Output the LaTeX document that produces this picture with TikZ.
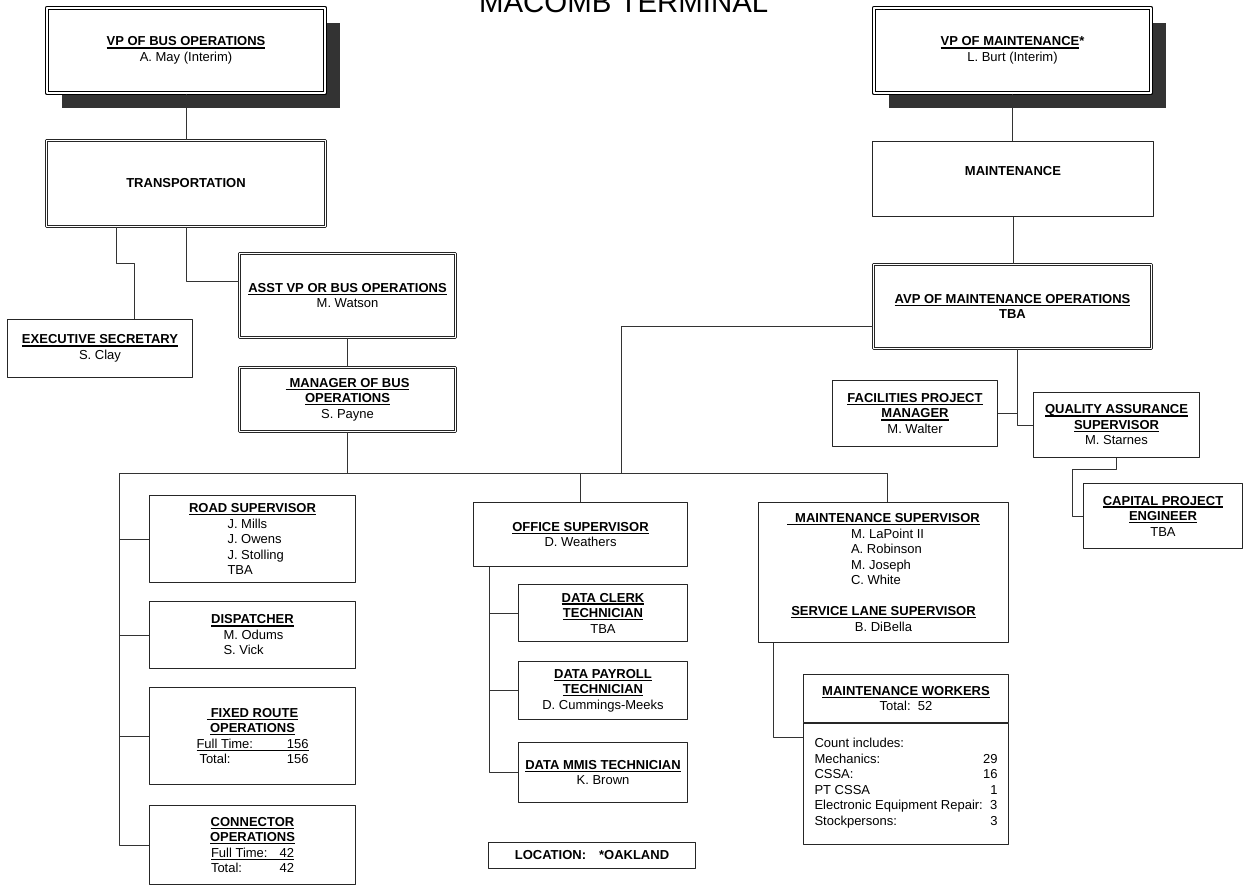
\documentclass[tikz,border=0pt]{standalone}
\usepackage{fontspec}
\setmainfont{Liberation Sans}
\usetikzlibrary{shadows}
\newcommand{\hd}[1]{\textbf{\setbox0\hbox{#1}\rlap{\rule[-2.6pt]{\wd0}{1.2pt}}\box0}}
\newcommand{\ulthin}[1]{\setbox0\hbox{#1}\rlap{\rule[-2pt]{\wd0}{0.6pt}}\box0}
\newcommand{\lft}[2]{\makebox[#1][l]{#2}}
\begin{document}
\begin{tikzpicture}[x=1pt, y=-1pt, line join=round, font=\fontsize{13}{15.5}\selectfont,
    box/.style={draw=black!85, line width=0.8pt, fill=white, inner sep=0pt, align=center},
    dbox/.style={box, double, line width=0.6pt, double distance=1.8pt},
    topbox/.style={box, draw=black, double, line width=1.3pt, double distance=1.6pt,
        drop shadow={shadow xshift=15pt, shadow yshift=-15pt, fill=black!80, opacity=1}},
    link/.style={draw=black!80, line width=0.8pt}]
\path[use as bounding box, fill=white] (0,0) rectangle (1244,886);
\node (ttl) at (623.7,12.7) [anchor=base, font=\fontsize{29.4}{30}\selectfont] {MACOMB TERMINAL};
% bus operations side
\node[topbox, minimum width=278pt, minimum height=85pt] (vpbus) at (186,50.5) {\hd{VP OF BUS OPERATIONS}\\A. May (Interim)};
\node[dbox, minimum width=279pt, minimum height=86pt] (trans) at (186,183.5) {\textbf{TRANSPORTATION}};
\node[box, minimum width=185pt, minimum height=58pt] (execsec) at (100,348.5) {\hd{EXECUTIVE SECRETARY}\\S. Clay};
\node[dbox, minimum width=216pt, minimum height=84pt] (asstvp) at (347.5,295.5) {\hd{ASST VP OR BUS OPERATIONS}\\M. Watson};
\node[dbox, minimum width=216pt, minimum height=64pt] (mgr) at (347.5,399.5) {\hd{\hspace*{4pt}MANAGER OF BUS}\\\hd{OPERATIONS}\\S. Payne};
\node[box, minimum width=206pt, minimum height=87pt] (road) at (252.5,539) {\hd{ROAD SUPERVISOR}\\\lft{50pt}{J. Mills}\\\lft{50pt}{J. Owens}\\\lft{50pt}{J. Stolling}\\\lft{50pt}{TBA}};
\node[box, minimum width=206pt, minimum height=67pt] (disp) at (252.5,635) {\hd{DISPATCHER}\\\lft{58pt}{M. Odums}\\\lft{58pt}{S. Vick}};
\node[box, minimum width=206pt, minimum height=97pt] (fixed) at (252.5,736) {\hd{\hspace*{4pt}FIXED ROUTE}\\\hd{OPERATIONS}\\\ulthin{\makebox[112pt]{Full Time:\hfill 156}}\\\makebox[112pt]{\hspace*{3pt}Total:\hfill 156}};
\node[box, minimum width=206pt, minimum height=79pt] (conn) at (252.5,845) {\hd{CONNECTOR}\\\hd{OPERATIONS}\\\ulthin{\makebox[83pt]{Full Time:\hfill 42}}\\\makebox[83pt]{Total:\hfill 42}};
% office
\node[box, minimum width=214pt, minimum height=64pt] (office) at (580.5,534.5) {\hd{OFFICE SUPERVISOR}\\D. Weathers};
\node[box, minimum width=169pt, minimum height=57pt] (clerk) at (603,613) {\hd{DATA CLERK}\\\hd{TECHNICIAN}\\TBA};
\node[box, minimum width=169pt, minimum height=58pt] (payroll) at (603,690.5) {\hd{DATA PAYROLL}\\\hd{TECHNICIAN}\\D. Cummings-Meeks};
\node[box, minimum width=169pt, minimum height=60pt] (mmis) at (603,772.5) {\hd{DATA MMIS TECHNICIAN}\\K. Brown};
\node[box, minimum width=207pt, minimum height=26pt] (loc) at (592,855.5) {\textbf{LOCATION:\hspace{13pt}*OAKLAND}};
% maintenance side
\node[topbox, minimum width=277pt, minimum height=85pt] (vpmaint) at (1012.5,50.5) {\hd{VP OF MAINTENANCE}\textbf{*}\\L. Burt (Interim)};
\node[box, minimum width=281pt, minimum height=75pt, text depth=16pt] (maint) at (1013,179) {\textbf{MAINTENANCE}};
\node[dbox, minimum width=278pt, minimum height=84pt] (avp) at (1012.5,306.5) {\hd{AVP OF MAINTENANCE OPERATIONS}\\\textbf{TBA}};
\node[box, minimum width=165pt, minimum height=66pt] (facil) at (915,413.5) {\hd{FACILITIES PROJECT}\\\hd{MANAGER}\\M. Walter};
\node[box, minimum width=166pt, minimum height=65pt] (qa) at (1116.5,425) {\hd{QUALITY ASSURANCE}\\\hd{SUPERVISOR}\\M. Starnes};
\node[box, minimum width=159pt, minimum height=65pt] (capital) at (1163,516) {\hd{CAPITAL PROJECT}\\\hd{ENGINEER}\\TBA};
\node[box, minimum width=250pt, minimum height=140pt] (msup) at (883.5,572.5) {\hd{\hspace*{8pt}MAINTENANCE SUPERVISOR}\\\lft{65pt}{M. LaPoint II}\\\lft{65pt}{A. Robinson}\\\lft{65pt}{M. Joseph}\\\lft{65pt}{C. White}\\[15.5pt]\hd{SERVICE LANE SUPERVISOR}\\B. DiBella};
\node[box, minimum width=205pt, minimum height=48pt] (mwork) at (906,698.5) {\hd{MAINTENANCE WORKERS}\\Total:\ \ 52};
\node[box, minimum width=205pt, minimum height=121pt] (mcount) at (906,783.5) {\begin{tabular*}{183pt}{@{}l@{\extracolsep{\fill}}r@{}}
Count includes: & \\
Mechanics: & 29\\
CSSA: & 16\\
PT CSSA & 1\\
Electronic Equipment Repair: & 3\\
Stockpersons: & 3
\end{tabular*}};
% connectors
\coordinate (busL) at (119,473);
\coordinate (busA) at (621,473);
\draw[link] (vpbus) -- (trans);
\draw[link] ([xshift=-70pt]trans.south) -- ++(0,37) -| ([xshift=34pt]execsec.north);
\draw[link] (trans.south) |- ([yshift=14.5pt]asstvp.west);
\draw[link] (asstvp) -- (mgr);
\draw[link] (mgr.south) -- (mgr.south |- busL);
\draw[link] ([xshift=3.5pt]msup.north) |- (busL) |- (conn.west);
\foreach \n in {road,disp,fixed} \draw[link] (\n.west) -- (\n.west -| busL);
\draw[link] (office.north) -- (office.north |- busL);
\draw[link] ([yshift=-19.5pt]avp.west) -| (busA);
\coordinate (ofs) at ([xshift=16pt]office.south west);
\draw[link] (ofs) |- (mmis.west);
\foreach \n in {clerk,payroll} \draw[link] (\n.west) -- (\n.west -| ofs);
\draw[link] (vpmaint.south) -- (vpmaint.south |- maint.north);
\draw[link] (maint.south) -- (maint.south |- avp.north);
\coordinate (avpx) at ([xshift=4.5pt]avp.south);
\draw[link] (avpx) |- (qa.west);
\draw[link] (facil.east) -- (facil.east -| avpx);
\draw[link] (qa.south) -- ++(0,11) -| ([xshift=-11pt]capital.west) -- (capital.west);
\draw[link] ([xshift=15pt]msup.south west) |- ([yshift=-15pt]mcount.north west);
\end{tikzpicture}
\end{document}
